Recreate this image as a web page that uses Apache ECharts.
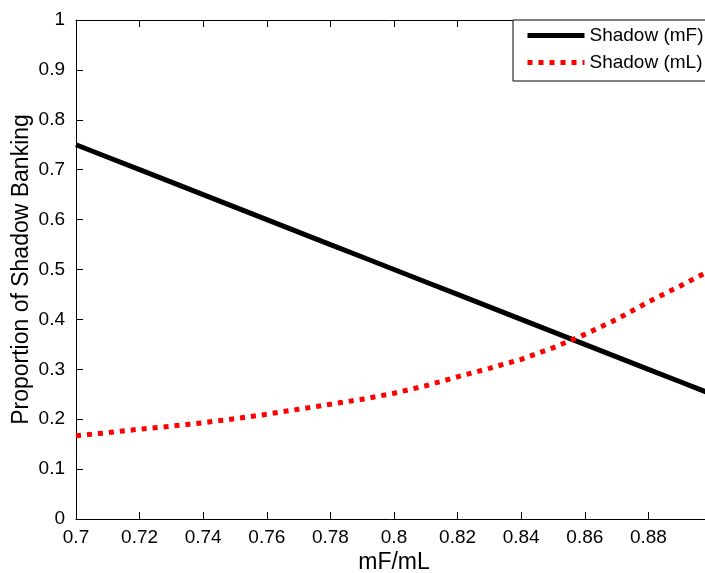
<!DOCTYPE html>
<html>
<head>
<meta charset="utf-8">
<script src="https://cdn.jsdelivr.net/npm/echarts@6/dist/echarts.min.js"></script>
<style>
html, body { margin: 0; padding: 0; background: #fff; }
#chart { width: 705px; height: 573px; }
</style>
</head>
<body>
<div id="chart"></div>
<script>
// values
var ratio = [0.70, 0.71, 0.72, 0.73, 0.74, 0.75, 0.76, 0.77, 0.78, 0.79, 0.80,
             0.81, 0.82, 0.83, 0.84, 0.85, 0.86, 0.87, 0.88, 0.89, 0.90];
var shadowMF = [0.75, 0.725, 0.70, 0.675, 0.65, 0.625, 0.60, 0.575, 0.55, 0.525, 0.50,
                0.475, 0.45, 0.425, 0.40, 0.375, 0.35, 0.325, 0.30, 0.275, 0.25];
var shadowML = [0.167, 0.173, 0.180, 0.186, 0.193, 0.201, 0.210, 0.220, 0.230, 0.240, 0.252,
                0.267, 0.285, 0.302, 0.320, 0.343, 0.370, 0.400, 0.435, 0.467, 0.500];
var seriesNames = ['Shadow (mF)', 'Shadow (mL)'];

function pairs(xs, ys) {
	var out = [];
	for (var i = 0; i < xs.length; i++) {
		out.push([xs[i], ys[i]]);
	}
	return out;
}

var font = 'Arial, "Liberation Sans", sans-serif';
var myChart = echarts.init(document.getElementById('chart'));
myChart.setOption({
	animation : false,
	backgroundColor : '#fff',
	textStyle : { fontFamily : font, color : '#000' },
	grid : {
		left : 76,
		right : -7,
		top : 20,
		bottom : 54,
		containLabel : false,
		outerBoundsMode : 'none'
	},
	legend : {
		orient : 'vertical',
		left : 513,
		top : 20,
		padding : [6, 20, 9, 12],
		itemWidth : 57,
		itemHeight : 14,
		itemGap : 8,
		backgroundColor : '#fff',
		borderColor : '#000',
		borderWidth : 1,
		borderRadius : 0,
		itemStyle : { opacity : 0 },
		lineStyle : { width : 5 },
		textStyle : { fontSize : 19, color : '#000', fontFamily : font },
		data : seriesNames
	},
	xAxis : [ {
		type : 'value',
		min : 0.7,
		max : 0.9,
		interval : 0.02,
		name : 'mF/mL',
		nameLocation : 'middle',
		nameGap : 32,
		nameMoveOverlap : false,
		nameTextStyle : { fontSize : 23, color : '#000' },
		axisLine : { onZero : false, lineStyle : { color : '#000', width : 1 } },
		axisTick : { inside : true, length : 7, lineStyle : { color : '#000' } },
		axisLabel : { fontSize : 19, color : '#000', margin : 9, showMaxLabel : false },
		splitLine : { show : false }
	}, {
		type : 'value',
		position : 'top',
		min : 0.7,
		max : 0.9,
		interval : 0.02,
		axisLine : { onZero : false, lineStyle : { color : '#000', width : 1 } },
		axisTick : { inside : true, length : 7, lineStyle : { color : '#000' } },
		axisLabel : { show : false },
		splitLine : { show : false }
	} ],
	yAxis : [ {
		type : 'value',
		min : 0,
		max : 1,
		interval : 0.1,
		name : 'Proportion of Shadow Banking',
		nameLocation : 'middle',
		nameGap : 43,
		nameMoveOverlap : false,
		nameTextStyle : { fontSize : 23, color : '#000' },
		axisLine : { show : true, onZero : false, lineStyle : { color : '#000', width : 1 } },
		axisTick : { show : true, inside : true, length : 7, lineStyle : { color : '#000' } },
		axisLabel : { fontSize : 19, color : '#000', margin : 11 },
		splitLine : { show : false }
	}, {
		type : 'value',
		position : 'right',
		min : 0,
		max : 1,
		interval : 0.1,
		axisLine : { show : true, onZero : false, lineStyle : { color : '#000', width : 1 } },
		axisTick : { show : true, inside : true, length : 7, lineStyle : { color : '#000' } },
		axisLabel : { show : false },
		splitLine : { show : false }
	} ],
	series : [ {
		name : seriesNames[0],
		type : 'line',
		symbol : 'none',
		color : '#000',
		lineStyle : { color : '#000', width : 5 },
		data : pairs(ratio, shadowMF)
	}, {
		name : seriesNames[1],
		type : 'line',
		symbol : 'none',
		color : '#ff0000',
		lineStyle : { color : '#ff0000', width : 5, type : [5, 6], cap : 'butt' },
		data : pairs(ratio, shadowML)
	} ]
});
</script>
</body>
</html>
